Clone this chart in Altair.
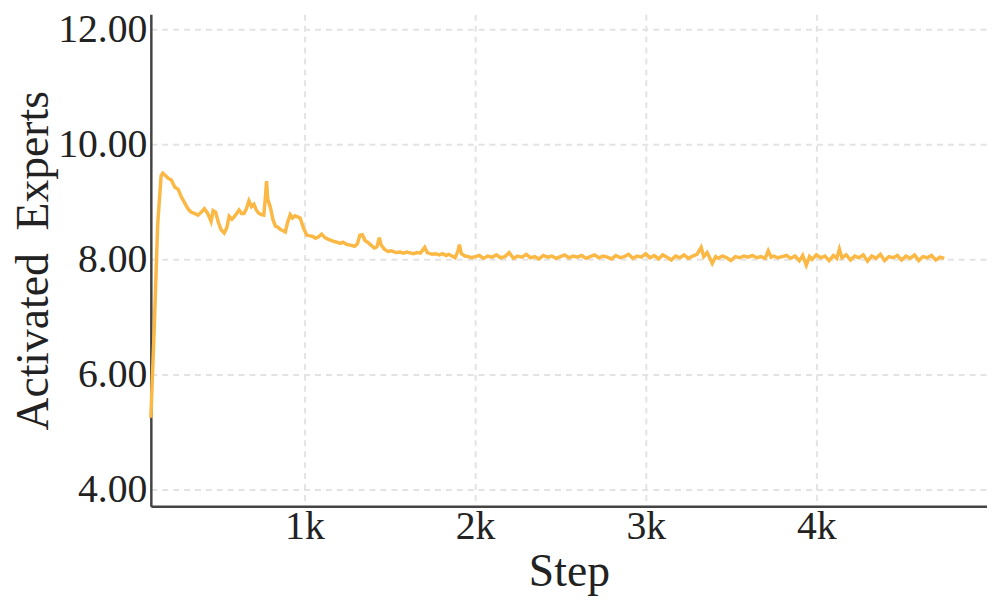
import altair as alt
import pandas as pd

STEPS = [
    100, 120, 140, 160, 170, 185, 202, 220, 240, 260, 280, 299, 318, 337, 356, 376, 395, 414, 433, 453,
    465, 480, 495, 511, 530, 545, 559, 575, 588, 603, 617, 632, 646, 660, 675, 690, 704, 718, 733, 748,
    762, 772, 778, 785, 801, 815, 830, 845, 860, 875, 888, 902, 917, 930, 945, 960, 975, 994, 1014, 1033,
    1050, 1065, 1081, 1101, 1120, 1140, 1168, 1190, 1210, 1226, 1250, 1270, 1294, 1310, 1325, 1340, 1355, 1370, 1390, 1410,
    1425, 1439, 1450, 1468, 1490, 1510, 1536, 1560, 1580, 1600, 1613, 1640, 1660, 1680, 1705, 1720, 1748, 1770, 1790, 1810,
    1830, 1845, 1865, 1883, 1900, 1908, 1920, 1941, 1960, 1980, 2000,
    2025, 2050, 2075, 2100, 2125, 2150, 2175, 2200, 2225, 2250, 2275, 2300, 2325, 2350, 2375, 2400, 2425, 2450, 2475, 2500,
    2525, 2550, 2575, 2600, 2625, 2650, 2675, 2700, 2725, 2750, 2775, 2800, 2825, 2850, 2875, 2900, 2925, 2950, 2975, 3000,
    3025, 3050, 3075, 3100, 3125, 3150, 3175, 3200, 3225, 3250, 3275, 3300, 3325, 3340, 3360, 3375, 3390, 3410, 3425, 3450,
    3475, 3500, 3525, 3550, 3575, 3600, 3625, 3650, 3675, 3700, 3718, 3735, 3750, 3775, 3800, 3825, 3850, 3875, 3900, 3920,
    3941, 3960, 3975, 4000, 4025, 4050, 4075, 4100, 4120, 4135, 4150, 4175, 4200, 4225, 4250, 4275, 4300, 4325, 4350, 4375,
    4400, 4425, 4450, 4475, 4500, 4525, 4550, 4575, 4600, 4625, 4650, 4675, 4700, 4725, 4750,
]

VALUES = [
    5.25, 6.80, 8.60, 9.45, 9.50, 9.46, 9.41, 9.38, 9.26, 9.22, 9.08, 8.98, 8.88, 8.82, 8.80, 8.77, 8.82, 8.88, 8.80, 8.66,
    8.85, 8.82, 8.65, 8.52, 8.46, 8.55, 8.75, 8.70, 8.74, 8.80, 8.86, 8.80, 8.80, 8.88, 9.02, 8.92, 8.96, 8.86, 8.80, 8.78,
    8.77, 9.10, 9.36, 9.05, 8.90, 8.70, 8.58, 8.56, 8.52, 8.50, 8.48, 8.65, 8.78, 8.72, 8.76, 8.74, 8.72, 8.55, 8.42, 8.41,
    8.40, 8.37, 8.39, 8.44, 8.38, 8.35, 8.32, 8.30, 8.28, 8.30, 8.26, 8.25, 8.23, 8.27, 8.42, 8.43, 8.33, 8.30, 8.25, 8.20,
    8.22, 8.38, 8.25, 8.18, 8.14, 8.15, 8.12, 8.13, 8.11, 8.13, 8.12, 8.10, 8.12, 8.11, 8.21, 8.12, 8.09, 8.10, 8.08, 8.10,
    8.07, 8.09, 8.06, 8.03, 8.15, 8.26, 8.10, 8.06, 8.05, 8.03, 8.05,
    8.07, 8.02, 8.06, 8.04, 8.08, 8.03, 8.05, 8.12, 8.02, 8.06, 8.04, 8.09, 8.03, 8.05, 8.01, 8.07, 8.04, 8.06, 8.02, 8.05,
    8.08, 8.03, 8.06, 8.04, 8.07, 8.02, 8.05, 8.08, 8.03, 8.06, 8.04, 8.01, 8.07, 8.03, 8.05, 8.09, 8.02, 8.06, 8.04, 8.10,
    8.03, 8.07, 8.01, 8.08, 8.04, 7.99, 8.06, 8.03, 8.08, 8.02, 8.06, 8.09, 8.21, 8.05, 8.12, 8.03, 7.93, 8.05, 8.02, 8.06,
    8.03, 7.98, 8.05, 8.03, 8.06, 8.04, 8.07, 8.03, 8.05, 8.02, 8.15, 8.04, 8.06, 8.03, 8.05, 8.07, 8.02, 8.06, 7.98, 8.07,
    7.90, 8.05, 8.00, 8.08, 8.03, 8.06, 7.98, 8.07, 8.02, 8.18, 8.03, 8.08, 7.99, 8.06, 8.03, 8.08, 7.97, 8.06, 8.02, 8.09,
    7.98, 8.05, 8.03, 8.07, 7.99, 8.06, 8.02, 8.08, 7.98, 8.05, 8.03, 8.07, 7.99, 8.04, 8.02,
]

X_TICKS = [1000, 2000, 3000, 4000]
Y_TICKS = [4, 6, 8, 10, 12]

df = pd.DataFrame({"step": STEPS, "value": VALUES})

FONT = "Liberation Serif"

chart = (
    alt.Chart(df)
    .mark_line(color="#FBB845", strokeWidth=3.5)
    .encode(
        x=alt.X(
            "step:Q",
            scale=alt.Scale(domain=[100, 5000], nice=False, zero=False),
            axis=alt.Axis(
                values=X_TICKS,
                labelExpr="datum.value / 1000 + 'k'",
                title="Step",
                ticks=False,
                labelPadding=0,
                titlePadding=4,
            ),
        ),
        y=alt.Y(
            "value:Q",
            scale=alt.Scale(domain=[3.71, 12.26], nice=False, zero=False),
            axis=alt.Axis(
                values=Y_TICKS,
                format=".2f",
                title="Activated\u00a0\u00a0Experts",
                ticks=False,
                labelPadding=4,
                titlePadding=0,
            ),
        ),
    )
    .properties(width=843, height=496, padding={"left": 3, "top": -1, "right": 0, "bottom": 0})
    .configure_view(stroke=None)
    .configure_axis(
        labelFont=FONT,
        titleFont=FONT,
        labelFontSize=40,
        titleFontSize=46,
        labelColor="#222222",
        titleColor="#222222",
        titleFontWeight="normal",
        domainColor="#444444",
        domainWidth=2.5,
        grid=True,
        gridColor="#e3e3e3",
        gridWidth=2,
        gridDash=[6, 5],
    )
)

chart.save("out.html", embed_options={"renderer": "svg", "actions": False})
